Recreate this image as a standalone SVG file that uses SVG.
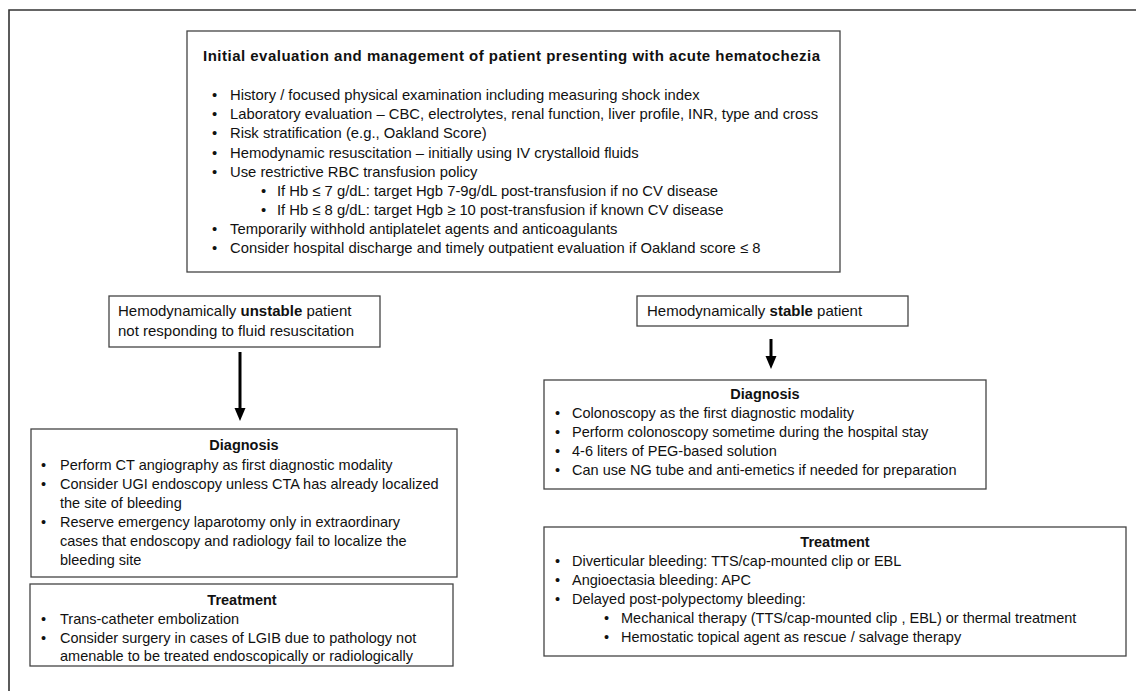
<svg xmlns="http://www.w3.org/2000/svg" width="1136" height="691" viewBox="0 0 1136 691">
<style>
text{font-family:"Liberation Sans",Arial,sans-serif;fill:#111}
.box{fill:#fff;stroke:#444;stroke-width:1.3}
.t{font-size:14.8px}
.tt{font-size:15px}
.m{font-size:14.5px}
.p{font-size:15px}
.b{font-weight:bold}
.c{text-anchor:middle}
.frame{stroke:#333;stroke-width:1.6;fill:none}
.arrow{stroke:#000;stroke-width:3}
</style>
<rect width="1136" height="691" fill="#fff"/>
<path class="frame" d="M1136 10 H9 V691"/>

<g id="initial">
<rect class="box" x="187" y="31" width="653" height="241"/>
<text class="tt b" x="203" y="61" textLength="617" lengthAdjust="spacing">Initial evaluation and management of patient presenting with acute hematochezia</text>
<text class="t" x="212" y="100">•</text><text class="t" x="230" y="100">History / focused physical examination including measuring shock index</text>
<text class="t" x="212" y="119">•</text><text class="t" x="230" y="119">Laboratory evaluation – CBC, electrolytes, renal function, liver profile, INR, type and cross</text>
<text class="t" x="212" y="138">•</text><text class="t" x="230" y="138">Risk stratification (e.g., Oakland Score)</text>
<text class="t" x="212" y="157.5">•</text><text class="t" x="230" y="157.5">Hemodynamic resuscitation – initially using IV crystalloid fluids</text>
<text class="t" x="212" y="177">•</text><text class="t" x="230" y="177">Use restrictive RBC transfusion policy</text>
<text class="t" x="261" y="196">•</text><text class="t" x="277" y="196">If Hb ≤ 7 g/dL: target Hgb 7-9g/dL post-transfusion if no CV disease</text>
<text class="t" x="261" y="215">•</text><text class="t" x="277" y="215">If Hb ≤ 8 g/dL: target Hgb ≥ 10 post-transfusion if known CV disease</text>
<text class="t" x="212" y="234">•</text><text class="t" x="230" y="234">Temporarily withhold antiplatelet agents and anticoagulants</text>
<text class="t" x="212" y="253">•</text><text class="t" x="230" y="253">Consider hospital discharge and timely outpatient evaluation if Oakland score ≤ 8</text>
</g>

<g id="unstable">
<rect class="box" x="109" y="296" width="271" height="51"/>
<text class="p" x="118" y="316">Hemodynamically <tspan class="b">unstable</tspan> patient</text>
<text class="p" x="118" y="336">not responding to fluid resuscitation</text>
</g>

<g id="stable">
<rect class="box" x="637" y="296" width="271" height="30"/>
<text class="p" x="647" y="316">Hemodynamically <tspan class="b">stable</tspan> patient</text>
</g>

<g id="connectors">
<line class="arrow" x1="240" y1="352" x2="240" y2="410"/>
<polygon points="234.5,408 245.5,408 240,421" fill="#000"/>
<line class="arrow" x1="771" y1="339" x2="771" y2="358"/>
<polygon points="765.5,356 776.5,356 771,369" fill="#000"/>
</g>

<g id="diag-left">
<rect class="box" x="31" y="429" width="426" height="148"/>
<text class="m b c" x="244" y="450">Diagnosis</text>
<text class="m" x="41" y="470">•</text><text class="m" x="60" y="470">Perform CT angiography as first diagnostic modality</text>
<text class="m" x="41" y="489">•</text><text class="m" x="60" y="489">Consider UGI endoscopy unless CTA has already localized</text>
<text class="m" x="60" y="508">the site of bleeding</text>
<text class="m" x="41" y="527">•</text><text class="m" x="60" y="527">Reserve emergency laparotomy only in extraordinary</text>
<text class="m" x="60" y="546">cases that endoscopy and radiology fail to localize the</text>
<text class="m" x="60" y="565">bleeding site</text>
</g>

<g id="treat-left">
<rect class="box" x="30" y="584" width="423" height="82"/>
<text class="m b c" x="242" y="605">Treatment</text>
<text class="m" x="41" y="624">•</text><text class="m" x="60" y="624">Trans-catheter embolization</text>
<text class="m" x="41" y="643">•</text><text class="m" x="60" y="643">Consider surgery in cases of LGIB due to pathology not</text>
<text class="m" x="60" y="661">amenable to be treated endoscopically or radiologically</text>
</g>

<g id="diag-right">
<rect class="box" x="544" y="380" width="442" height="109"/>
<text class="m b c" x="765" y="399">Diagnosis</text>
<text class="m" x="555" y="418">•</text><text class="m" x="572" y="418">Colonoscopy as the first diagnostic modality</text>
<text class="m" x="555" y="437">•</text><text class="m" x="572" y="437">Perform colonoscopy sometime during the hospital stay</text>
<text class="m" x="555" y="456">•</text><text class="m" x="572" y="456">4-6 liters of PEG-based solution</text>
<text class="m" x="555" y="475">•</text><text class="m" x="572" y="475">Can use NG tube and anti-emetics if needed for preparation</text>
</g>

<g id="treat-right">
<rect class="box" x="544" y="527" width="582" height="129"/>
<text class="m b c" x="835" y="547">Treatment</text>
<text class="m" x="555" y="566">•</text><text class="m" x="572" y="566">Diverticular bleeding: TTS/cap-mounted clip or EBL</text>
<text class="m" x="555" y="585">•</text><text class="m" x="572" y="585">Angioectasia bleeding: APC</text>
<text class="m" x="555" y="604">•</text><text class="m" x="572" y="604">Delayed post-polypectomy bleeding:</text>
<text class="m" x="604" y="623">•</text><text class="m" x="621" y="623">Mechanical therapy (TTS/cap-mounted clip , EBL) or thermal treatment</text>
<text class="m" x="604" y="642">•</text><text class="m" x="621" y="642">Hemostatic topical agent as rescue / salvage therapy</text>
</g>
</svg>
